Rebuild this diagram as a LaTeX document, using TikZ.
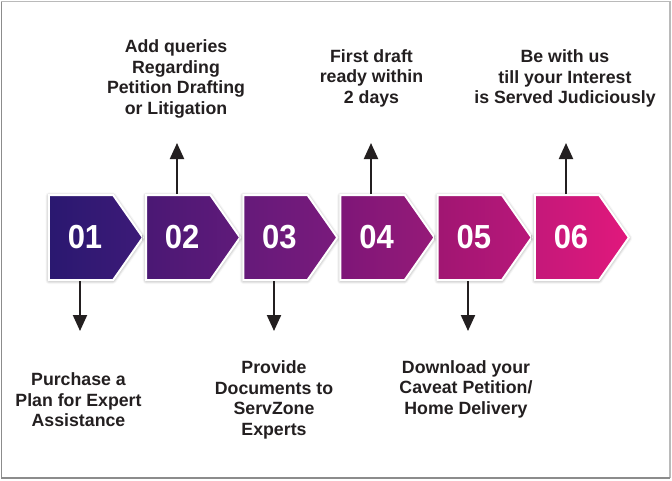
\documentclass[tikz,border=0pt]{standalone}
\usepackage{fontspec}
\setmainfont{Liberation Sans}
\usetikzlibrary{shapes.symbols,shadows.blur,arrows.meta}

\definecolor{ink}{HTML}{231F20}
\definecolor{frame}{HTML}{8C8C8C}
\definecolor{oneL}{HTML}{2A1870}
\definecolor{oneR}{HTML}{3D1A78}
\definecolor{twoL}{HTML}{4A1874}
\definecolor{twoR}{HTML}{601A7A}
\definecolor{threeL}{HTML}{651A7A}
\definecolor{threeR}{HTML}{7A1A7C}
\definecolor{fourL}{HTML}{7E1678}
\definecolor{fourR}{HTML}{961A78}
\definecolor{fiveL}{HTML}{A01672}
\definecolor{fiveR}{HTML}{B9177A}
\definecolor{sixL}{HTML}{C4187A}
\definecolor{sixR}{HTML}{E1187C}

\tikzset{
  stage/.style={signal, signal to=east, signal pointer angle=110,
    minimum width=70.5pt, minimum height=63.75pt, inner sep=0pt,
    draw=white, line width=1.5pt,
    blur shadow={shadow xshift=0pt, shadow yshift=-0.5pt,
      shadow blur radius=2.5pt, shadow opacity=50}},
  num/.style={text=white, font=\fontsize{25}{25}\selectfont\bfseries},
  note/.style={text=ink, align=center,
    font=\fontsize{13.3}{15.4}\selectfont\bfseries},
  link/.style={draw=ink, line width=1.6pt,
    -{Triangle[width=10.5pt,length=12pt]}}
}

\begin{document}
\begin{tikzpicture}[x=0.75pt, y=-0.75pt]
  \useasboundingbox (0,0) rectangle (672,480);
  \def\ymid{237.5}

  % outer frame
  \draw[frame!60, line width=1pt] (1.5,1.5) -- (670,1.5) -- (670,478);
  \draw[frame, line width=1pt] (1.5,1.5) -- (1.5,478) -- (670,478);

  % 01: purchase a plan
  \node[stage, left color=oneL, right color=oneR] (s1) at (81,\ymid) {};
  \node[num] (n1) at ([xshift=3pt]s1.center) {\scalebox{0.93}[1]{01}};

  % 02: add queries
  \node[stage, left color=twoL, right color=twoR] (s2) at (178.2,\ymid) {};
  \node[num] (n2) at ([xshift=3pt]s2.center) {\scalebox{0.93}[1]{02}};

  % 03: provide documents
  \node[stage, left color=threeL, right color=threeR] (s3) at (275.4,\ymid) {};
  \node[num] (n3) at ([xshift=3pt]s3.center) {\scalebox{0.93}[1]{03}};

  % 04: first draft
  \node[stage, left color=fourL, right color=fourR] (s4) at (372.6,\ymid) {};
  \node[num] (n4) at ([xshift=3pt]s4.center) {\scalebox{0.93}[1]{04}};

  % 05: download
  \node[stage, left color=fiveL, right color=fiveR] (s5) at (469.8,\ymid) {};
  \node[num] (n5) at ([xshift=3pt]s5.center) {\scalebox{0.93}[1]{05}};

  % 06: served
  \node[stage, left color=sixL, right color=sixR] (s6) at (567,\ymid) {};
  \node[num] (n6) at ([xshift=3pt]s6.center) {\scalebox{0.93}[1]{06}};

  % texts, top row
  \node[note] (t2) at (176,79) {Add queries\\Regarding\\Petition Drafting\\or Litigation};
  \node[note] (t4) at (371.5,78) {First draft\\ready within\\2 days};
  \node[note] (t6) at (565,78.5) {Be with us\\till your Interest\\is Served Judiciously};

  % texts, bottom row
  \node[note] (t1) at (78.5,400) {Purchase a\\Plan for Expert\\Assistance};
  \node[note] (t3) at (274,400) {Provide\\Documents to\\ServZone\\Experts};
  \node[note] (t5) at (466,389) {Download your\\Caveat Petition/\\Home Delivery};

  % arrow ends
  \coordinate (a1) at (80,331);
  \coordinate (a2) at (177,143);
  \coordinate (a3) at (274,331);
  \coordinate (a4) at (371,143);
  \coordinate (a5) at (468,331);
  \coordinate (a6) at (566,143);

  % arrows
  \draw[link] (s1.south -| a1) -- (a1);
  \draw[link] (s2.north -| a2) -- (a2);
  \draw[link] (s3.south -| a3) -- (a3);
  \draw[link] (s4.north -| a4) -- (a4);
  \draw[link] (s5.south -| a5) -- (a5);
  \draw[link] (s6.north -| a6) -- (a6);
\end{tikzpicture}
\end{document}
